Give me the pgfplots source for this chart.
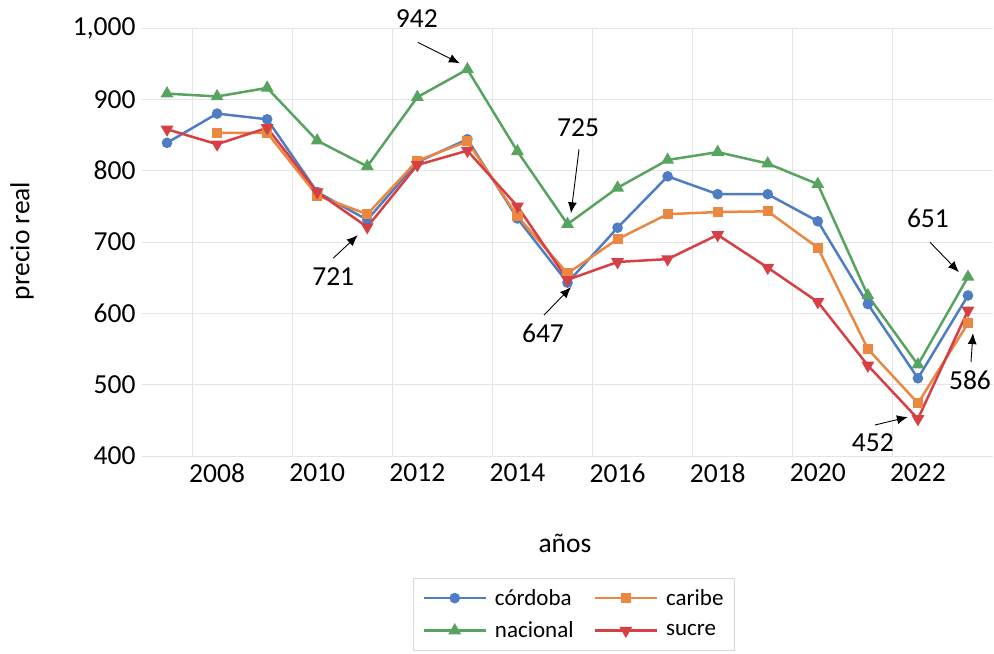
\documentclass[border=0pt]{standalone}
\usepackage{pgfplots}
\pgfplotsset{compat=1.18}
\usepackage{fontspec}
\setmainfont{Carlito}
\usetikzlibrary{arrows.meta}
\definecolor{cblue}{RGB}{79,125,196}
\definecolor{corange}{RGB}{234,135,64}
\definecolor{cgreen}{RGB}{88,163,96}
\definecolor{cred}{RGB}{214,64,69}
\definecolor{gridgray}{RGB}{228,228,228}
\definecolor{legendgray}{RGB}{217,217,217}
\begin{document}
\begin{tikzpicture}[x=1bp,y=1bp]
\useasboundingbox (0,0) rectangle (994,654);
\node[rotate=90,font=\fontsize{27.5bp}{33bp}\selectfont] at (22,413) {precio real};
\node[font=\fontsize{27.5bp}{33bp}\selectfont] at (565,111) {años};
\begin{axis}[
  at={(142bp,198bp)}, anchor=south west,
  scale only axis, width=851bp, height=428bp,
  xmin=2006.5, xmax=2023.5, ymin=400, ymax=1000,
  axis line style={draw=none},
  major tick length=0pt, minor tick length=0pt,
  xtick={2008,2010,...,2022},
  xticklabels={2008,2010,2012,2014,2016,2018,2020,2022},
  minor xtick={2007.5,2009.5,...,2021.5},
  xminorgrids=true, xmajorgrids=false, ymajorgrids=true,
  ytick={400,500,...,1000},
  yticklabels={400,500,600,700,800,900,{1,000}},
  grid style={draw=gridgray, line width=0.9bp},
  minor grid style={draw=gridgray, line width=0.9bp},
  tick label style={font=\fontsize{27.5bp}{33bp}\selectfont},
  yticklabel style={xshift=-3bp},
  xticklabel style={yshift=-4bp},
  clip=false,
  legend columns=2,
  legend cell align=left,
  legend style={at={(0.5076,-0.285)}, anchor=north, draw=legendgray, line width=0.8bp,
    font=\fontsize{23bp}{27bp}\selectfont, inner xsep=9bp, inner ysep=9bp,
    /tikz/row sep=11bp,
    /tikz/every odd column/.append style={column sep=6bp},
    /tikz/every even column/.append style={column sep=18bp}},
  legend image code/.code={\draw[mark repeat=2,mark phase=2] plot coordinates {(0bp,0bp) (31bp,0bp) (62bp,0bp)};},
]
\addplot[color=cblue, line width=2.5bp, mark=*, mark size=4bp, mark options={solid}] coordinates {
(2007,839) (2008,880) (2009,872) (2010,770) (2011,731) (2012,812) (2013,844) (2014,733) (2015,643) (2016,720) (2017,792) (2018,767) (2019,767) (2020,729) (2021,613) (2022,509) (2023,625)};
\addlegendentry{córdoba}
\addplot[color=corange, line width=2.5bp, mark=square*, mark size=3.8bp, mark options={solid}] coordinates {
(2008,853) (2009,853) (2010,765) (2011,739) (2012,814) (2013,841) (2014,736) (2015,656) (2016,704) (2017,739) (2018,742) (2019,743) (2020,692) (2021,550) (2022,474) (2023,586)};
\addlegendentry{caribe}
\addplot[color=cgreen, line width=2.5bp, mark=triangle*, mark size=5bp, mark options={solid}] coordinates {
(2007,908) (2008,904) (2009,916) (2010,842) (2011,806) (2012,903) (2013,942) (2014,827) (2015,725) (2016,776) (2017,815) (2018,826) (2019,810) (2020,781) (2021,625) (2022,528) (2023,651)};
\addlegendentry{nacional}
\addplot[color=cred, line width=2.5bp, mark=triangle*, mark size=5bp, mark options={solid,rotate=180}] coordinates {
(2007,858) (2008,837) (2009,860) (2010,770) (2011,721) (2012,808) (2013,828) (2014,750) (2015,647) (2016,672) (2017,676) (2018,710) (2019,664) (2020,616) (2021,527) (2022,452) (2023,604)};
\addlegendentry{sucre}
\begin{scope}[every node/.style={font=\fontsize{27.5bp}{33bp}\selectfont}]
\node at (axis cs:2011.99,1013.4) {942};
\draw[line width=0.9bp,-{Latex[length=11bp,width=9bp]}] (axis cs:2012.01,979.8) -- (axis cs:2012.85,950.4);
\node at (axis cs:2015.21,860.8) {725};
\draw[line width=0.9bp,-{Latex[length=11bp,width=9bp]}] (axis cs:2015.23,830) -- (axis cs:2015.07,740.3);
\node at (axis cs:2010.32,652.1) {721};
\draw[line width=0.9bp,-{Latex[length=11bp,width=9bp]}] (axis cs:2010.32,677.3) -- (axis cs:2010.81,709.5);
\node at (axis cs:2014.51,572.3) {647};
\draw[line width=0.9bp,-{Latex[length=11bp,width=9bp]}] (axis cs:2014.53,597.5) -- (axis cs:2015.07,636.7);
\node at (axis cs:2021.10,418.2) {452};
\draw[line width=0.9bp,-{Latex[length=11bp,width=9bp]}] (axis cs:2021.14,443.4) -- (axis cs:2021.80,454.6);
\node at (axis cs:2023.04,506.4) {586};
\draw[line width=0.9bp,-{Latex[length=11bp,width=9bp]}] (axis cs:2023.06,531.7) -- (axis cs:2023.10,572.3);
\node at (axis cs:2022.20,733.3) {651};
\draw[line width=0.9bp,-{Latex[length=11bp,width=9bp]}] (axis cs:2022.24,699.7) -- (axis cs:2022.82,657.7);
\end{scope}
\end{axis}
\end{tikzpicture}
\end{document}
